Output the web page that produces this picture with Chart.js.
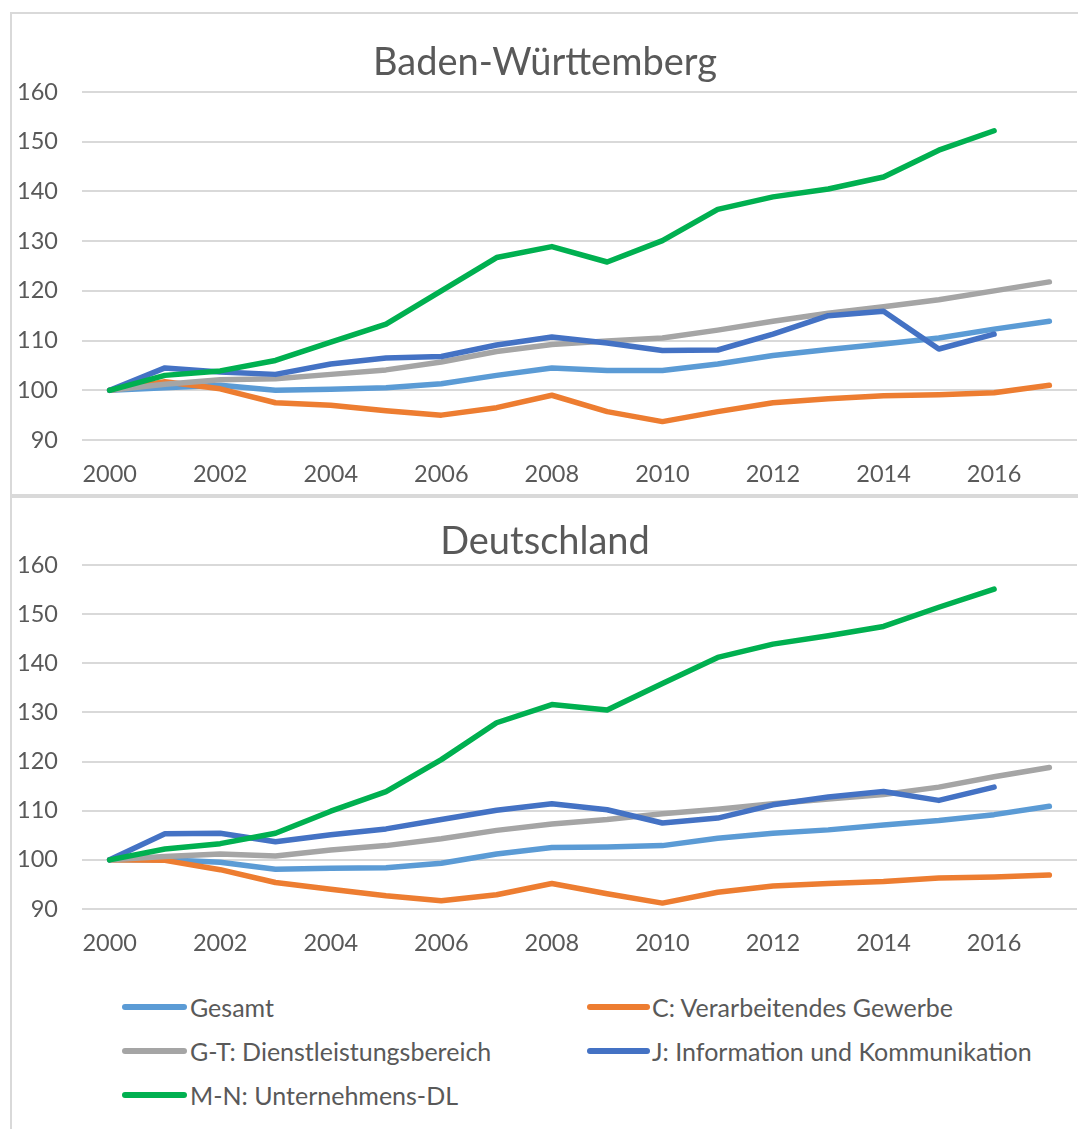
<!DOCTYPE html>
<html lang="de">
<head>
<meta charset="utf-8">
<script src="https://cdn.jsdelivr.net/npm/chart.js@4.4.1/dist/chart.umd.min.js"></script>
<style>
  html, body { margin: 0; padding: 0; background: #fff; }
  body { width: 1078px; height: 1129px; position: relative; overflow: hidden; font-family: Lato, "Open Sans", sans-serif; }
  .box { position: absolute; left: 10px; border: 2px solid #d9d9d9; border-right: none; box-sizing: border-box; }
  #box1 { top: 12px; width: 1068px; height: 484px; }
  #box2 { top: 496px; width: 1068px; height: 640px; border-bottom: none; }
  canvas { position: absolute; }
  #c1 { left: 13px; top: 14px; }
  #c2 { left: 13px; top: 498px; }
  .leg { position: absolute; height: 30px; line-height: 30px; color: #595959; font-size: 25px; white-space: nowrap; }
  .leg i { position: absolute; left: 0; top: 12px; height: 6px; border-radius: 3px; }
</style>
</head>
<body>
<div class="box" id="box1"></div>
<div class="box" id="box2"></div>
<canvas id="c1" width="1076" height="480"></canvas>
<canvas id="c2" width="1076" height="466"></canvas>
<div id="legende"></div>
<script>
const jahre = ["2000", "2001", "2002", "2003", "2004", "2005", "2006", "2007", "2008",
  "2009", "2010", "2011", "2012", "2013", "2014", "2015", "2016", "2017"];

const serienNamen = ["Gesamt", "C: Verarbeitendes Gewerbe", "G-T: Dienstleistungsbereich",
  "J: Information und Kommunikation", "M-N: Unternehmens-DL"];
const serienFarben = ["#5B9BD5", "#ED7D31", "#A5A5A5", "#4472C4", "#00B050"];

// Baden-Württemberg
const bwGesamt = [100, 100.5, 101, 100, 100.2, 100.5, 101.3, 103, 104.5, 104, 104, 105.3, 107, 108.2, 109.3, 110.5, 112.3, 113.9];
const bwVerarb = [100, 101.7, 100.3, 97.5, 97, 95.9, 95, 96.5, 99, 95.7, 93.7, 95.7, 97.5, 98.3, 98.9, 99.1, 99.5, 101];
const bwDienst = [100, 101.2, 102.1, 102.3, 103.2, 104.1, 105.7, 107.8, 109.2, 109.9, 110.5, 112.1, 113.9, 115.5, 116.8, 118.2, 120, 121.8];
const bwInfo = [100, 104.5, 103.7, 103.2, 105.3, 106.5, 106.8, 109.1, 110.7, 109.5, 108, 108.1, 111.3, 115, 115.9, 108.3, 111.3, null];
const bwUntern = [100, 103, 103.9, 106, 109.7, 113.3, 120, 126.7, 128.9, 125.8, 130.1, 136.4, 138.9, 140.5, 142.9, 148.3, 152.2, null];

// Deutschland
const deGesamt = [100, 100, 99.5, 98.1, 98.3, 98.4, 99.3, 101.2, 102.5, 102.6, 102.9, 104.4, 105.4, 106.1, 107.1, 108, 109.2, 110.9];
const deVerarb = [100, 99.9, 98, 95.4, 94, 92.7, 91.7, 92.9, 95.2, 93.1, 91.2, 93.4, 94.7, 95.2, 95.6, 96.3, 96.5, 96.9];
const deDienst = [100, 100.7, 101.2, 100.8, 102, 102.9, 104.3, 106, 107.3, 108.2, 109.4, 110.3, 111.4, 112.4, 113.3, 114.8, 116.9, 118.8];
const deInfo = [100, 105.3, 105.4, 103.7, 105.1, 106.3, 108.2, 110.1, 111.4, 110.2, 107.5, 108.5, 111.2, 112.8, 113.9, 112.1, 114.8, null];
const deUntern = [100, 102.2, 103.3, 105.4, 109.9, 113.9, 120.4, 127.9, 131.6, 130.5, 135.9, 141.2, 143.9, 145.6, 147.5, 151.4, 155.1, null];

const yMin = 90;
const yMax = 160;
const yStep = 10;

const textFarbe = "#595959";
const gitterFarbe = "#D9D9D9";
const schrift = "Lato, 'Open Sans', sans-serif";

function datensaetze(reihen) {
  return reihen.map((werte, i) => ({
    label: serienNamen[i],
    data: werte,
    borderColor: serienFarben[i],
    backgroundColor: serienFarben[i],
    borderWidth: 5.5,
    borderCapStyle: "round",
    borderJoinStyle: "round",
    pointRadius: 0,
    tension: 0,
    order: reihen.length - i
  }));
}

function zeichneDiagramm(id, titel, reihen, titelPadding, unten) {
  const canvas = document.getElementById(id);
  return new Chart(canvas, {
    type: "line",
    data: { labels: jahre, datasets: datensaetze(reihen) },
    options: {
      responsive: false,
      animation: false,
      // rechts breiter, damit der Titel wie im Original leicht rechts der Mitte sitzt
      layout: { padding: { top: 0, left: 0, right: 12, bottom: unten } },
      plugins: {
        legend: { display: false },
        tooltip: { enabled: false },
        title: {
          display: true,
          text: titel,
          color: textFarbe,
          font: { family: schrift, size: 38, weight: "normal" },
          padding: titelPadding
        }
      },
      scales: {
        x: {
          offset: true,
          afterFit: (skala) => { skala.height = 48; },
          grid: { display: false, drawTicks: false },
          border: { display: false },
          ticks: {
            autoSkip: false,
            maxRotation: 0,
            padding: 20,
            color: textFarbe,
            font: { family: schrift, size: 23.5 },
            callback: (wert, index) => (index % 2 === 0 ? jahre[index] : "")
          }
        },
        y: {
          min: yMin,
          max: yMax,
          afterFit: (skala) => { skala.width = 69; },
          grid: { color: gitterFarbe, lineWidth: 2, drawTicks: false },
          border: { display: false },
          ticks: {
            stepSize: yStep,
            padding: 24,
            color: textFarbe,
            font: { family: schrift, size: 23.5 }
          }
        }
      }
    }
  });
}

// Titel: Mitte ~49 px (oben) bzw. ~44 px (unten) im Canvas
zeichneDiagramm("c1", "Baden-Württemberg", [bwGesamt, bwVerarb, bwDienst, bwInfo, bwUntern], { top: 26.2, bottom: 6.2 }, 6);
zeichneDiagramm("c2", "Deutschland", [deGesamt, deVerarb, deDienst, deInfo, deUntern], { top: 21.2, bottom: 0.2 }, 7);

// gemeinsame Legende unter dem unteren Diagramm
const legendePos = [[122, 992], [587, 992], [122, 1036], [587, 1036], [122, 1080]];
const legende = document.getElementById("legende");
serienNamen.forEach((name, i) => {
  const [x, y] = legendePos[i];
  const el = document.createElement("div");
  el.className = "leg";
  el.style.left = x + "px";
  el.style.top = y + "px";
  el.style.paddingLeft = (i % 2 === 0 ? 68 : 65) + "px";
  el.innerHTML = '<i style="width:' + (i % 2 === 0 ? 65 : 63) + 'px;background:' + serienFarben[i] + '"></i>';
  el.appendChild(document.createTextNode(name));
  legende.appendChild(el);
});
</script>
</body>
</html>
